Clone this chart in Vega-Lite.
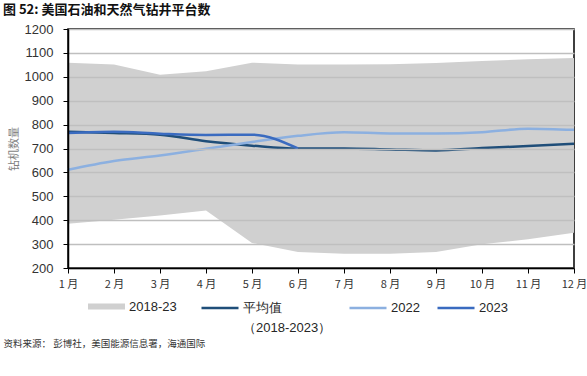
{
  "$schema": "https://vega.github.io/schema/vega-lite/v6.json",
  "width": 506,
  "height": 239,
  "autosize": {"type": "none"},
  "padding": {"left": 68, "top": 29, "right": 13, "bottom": 108},
  "background": "#ffffff",
  "title": {
    "text": "图 52:  美国石油和天然气钻井平台数",
    "anchor": "start",
    "frame": "group",
    "dx": -65,
    "offset": 6,
    "font": "Noto Sans CJK SC",
    "fontSize": 13,
    "fontWeight": "bold",
    "color": "#111111"
  },
  "config": {
    "view": {"stroke": "#000000", "strokeWidth": 1.5},
    "font": "Liberation Sans"
  },
  "datasets": {
    "band": [
      {"month": 1, "lo": 385, "hi": 1059},
      {"month": 2, "lo": 402, "hi": 1051},
      {"month": 3, "lo": 420, "hi": 1009},
      {"month": 4, "lo": 441, "hi": 1023},
      {"month": 5, "lo": 305, "hi": 1059},
      {"month": 6, "lo": 267, "hi": 1051},
      {"month": 7, "lo": 260, "hi": 1051},
      {"month": 8, "lo": 260, "hi": 1052},
      {"month": 9, "lo": 267, "hi": 1058},
      {"month": 10, "lo": 299, "hi": 1066},
      {"month": 11, "lo": 320, "hi": 1073},
      {"month": 12, "lo": 348, "hi": 1079}
    ],
    "lines": [
      {"month": 1, "series": "平均值", "value": 770},
      {"month": 2, "series": "平均值", "value": 765},
      {"month": 3, "series": "平均值", "value": 758},
      {"month": 4, "series": "平均值", "value": 730},
      {"month": 5, "series": "平均值", "value": 712},
      {"month": 6, "series": "平均值", "value": 700},
      {"month": 7, "series": "平均值", "value": 700},
      {"month": 8, "series": "平均值", "value": 696},
      {"month": 9, "series": "平均值", "value": 692},
      {"month": 10, "series": "平均值", "value": 702},
      {"month": 11, "series": "平均值", "value": 710},
      {"month": 12, "series": "平均值", "value": 720},
      {"month": 1, "series": "2022", "value": 611},
      {"month": 2, "series": "2022", "value": 648},
      {"month": 3, "series": "2022", "value": 671},
      {"month": 4, "series": "2022", "value": 699},
      {"month": 5, "series": "2022", "value": 727},
      {"month": 6, "series": "2022", "value": 753},
      {"month": 7, "series": "2022", "value": 768},
      {"month": 8, "series": "2022", "value": 763},
      {"month": 9, "series": "2022", "value": 763},
      {"month": 10, "series": "2022", "value": 768},
      {"month": 11, "series": "2022", "value": 783},
      {"month": 12, "series": "2022", "value": 778},
      {"month": 1, "series": "2023", "value": 765},
      {"month": 2, "series": "2023", "value": 770},
      {"month": 3, "series": "2023", "value": 762},
      {"month": 4, "series": "2023", "value": 757},
      {"month": 5, "series": "2023", "value": 758},
      {"month": 6, "series": "2023", "value": 700}
    ]
  },
  "encoding": {
    "x": {
      "field": "month",
      "type": "quantitative",
      "scale": {"domain": [1, 12], "nice": false, "zero": false},
      "axis": {
        "values": [1, 2, 3, 4, 5, 6, 7, 8, 9, 10, 11, 12],
        "labelExpr": "datum.value + ' 月'",
        "grid": false,
        "tickSize": 5,
        "tickColor": "#000000",
        "domainColor": "#000000",
        "domainWidth": 1.5,
        "labelFont": "Noto Sans CJK SC",
        "labelFontSize": 11,
        "labelColor": "#333333",
        "labelPadding": 5,
        "labelFlush": false,
        "labelOverlap": false,
        "zindex": 1,
        "title": "资料来源： 彭博社，美国能源信息署，海通国际",
        "titleFont": "Noto Sans CJK SC",
        "titleFontSize": 9.5,
        "titleFontWeight": "normal",
        "titleColor": "#333333",
        "titleAnchor": "start",
        "titleAlign": "left",
        "titleBaseline": "top",
        "titleX": -65,
        "titleY": 70
      }
    },
    "y": {
      "field": "value",
      "type": "quantitative",
      "scale": {"domain": [200, 1200], "nice": false, "zero": false},
      "axis": {
        "values": [200, 300, 400, 500, 600, 700, 800, 900, 1000, 1100, 1200],
        "format": "d",
        "labelOverlap": false,
        "grid": true,
        "gridColor": "#BFBFBF",
        "gridWidth": 1.5,
        "tickSize": 5,
        "tickColor": "#000000",
        "domainColor": "#000000",
        "domainWidth": 1.5,
        "labelFont": "Liberation Sans",
        "labelFontSize": 13,
        "labelColor": "#333333",
        "labelPadding": 10,
        "zindex": 1,
        "title": "钻机数量",
        "titleFont": "Noto Sans CJK SC",
        "titleFontSize": 11,
        "titleFontWeight": "normal",
        "titleColor": "#7F7F7F",
        "titlePadding": 5
      }
    }
  },
  "layer": [
    {
      "data": {"name": "band"},
      "mark": {"type": "area", "opacity": 1},
      "encoding": {
        "y": {
          "field": "hi",
          "type": "quantitative",
          "scale": {"domain": [200, 1200], "nice": false, "zero": false},
          "axis": {
            "values": [200, 300, 400, 500, 600, 700, 800, 900, 1000, 1100, 1200],
            "format": "d",
            "labelOverlap": false,
            "grid": true,
            "gridColor": "#BFBFBF",
            "gridWidth": 1.5,
            "tickSize": 5,
            "tickColor": "#000000",
            "domainColor": "#000000",
            "domainWidth": 1.5,
            "labelFont": "Liberation Sans",
            "labelFontSize": 13,
            "labelColor": "#333333",
            "labelPadding": 10,
            "zindex": 1,
            "title": "钻机数量",
            "titleFont": "Noto Sans CJK SC",
            "titleFontSize": 11,
            "titleFontWeight": "normal",
            "titleColor": "#7F7F7F",
            "titlePadding": 5
          }
        },
        "y2": {"field": "lo"},
        "fill": {
          "datum": "2018-23",
          "type": "nominal",
          "scale": {"domain": ["2018-23"], "range": ["#D0D0D0"]},
          "legend": {
            "orient": "none",
            "legendX": 20,
            "legendY": 259,
            "title": null,
            "symbolType": "M-1,-0.16H1V0.16H-1Z",
            "symbolSize": 1369,
            "symbolStrokeWidth": 0,
            "labelFont": "Liberation Sans",
            "labelFontSize": 13,
            "labelColor": "#262626",
            "labelOffset": 4
          }
        }
      }
    },
    {
      "data": {"name": "lines"},
      "mark": {"type": "line", "interpolate": "monotone", "strokeWidth": 2.5},
      "encoding": {
        "stroke": {
          "field": "series",
          "type": "nominal",
          "sort": ["平均值", "2022", "2023"],
          "scale": {"domain": ["平均值", "2022", "2023"], "range": ["#1F4E79", "#8CB0E0", "#3A6BC0"]},
          "legend": {
            "orient": "none",
            "direction": "horizontal",
            "legendX": 132,
            "legendY": 259,
            "title": null,
            "symbolType": "stroke",
            "symbolSize": 1369,
            "symbolStrokeWidth": 2.5,
            "labelFont": "Liberation Sans",
            "labelFontSize": 13,
            "labelColor": "#262626",
            "labelOffset": 3,
            "labelBaseline": "middle",
            "columnPadding": 12,
            "labelExpr": "datum.label === '平均值' ? ['平均值', '    （2018-2023）'] : [datum.label, ' ']",
            "encode": {"labels": {"update": {"lineHeight": {"value": 20}}}}
          }
        },
        "order": {"field": "month", "type": "quantitative"}
      }
    }
  ]
}
